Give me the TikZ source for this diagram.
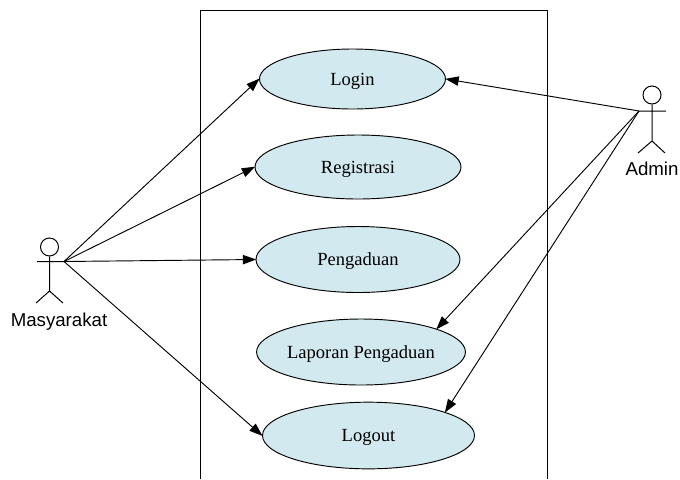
\documentclass[tikz,border=0pt]{standalone}
\usepackage{fontspec}
\setmainfont{Liberation Serif}
\newfontfamily\actorfont{Liberation Sans}
\usetikzlibrary{shapes.geometric,arrows.meta}
\definecolor{ucfill}{HTML}{D2E9EF}
\tikzset{
  x=0.75pt,y=-0.75pt,
  usecase/.style={ellipse,draw=black,fill=ucfill,line width=0.7pt,inner sep=0pt,text height=9pt,text depth=0pt,font=\fontsize{13.9pt}{16pt}\selectfont},
  actorlabel/.style={font=\actorfont\fontsize{14pt}{16pt}\selectfont,inner sep=0pt,anchor=base},
  limb/.style={draw=black,line width=0.75pt},
  link/.style={draw=black,line width=0.7pt,-{Triangle[length=10pt,width=7pt]},shorten >=-0.5pt},
}
\begin{document}
\begin{tikzpicture}
\useasboundingbox (0,0) rectangle (680,479);
\fill[white] (0,0) rectangle (680,479);
% system boundary (open at the bottom)
\draw[line width=0.75pt] (200,479) -- (200,10) -- (547,10) -- (547,479);
% use cases
\node[usecase,minimum width=139.5pt,minimum height=45pt] (login) at (352.5,79) {Login};
\node[usecase,minimum width=154.5pt,minimum height=48pt] (reg) at (358,167) {Registrasi};
\node[usecase,minimum width=153pt,minimum height=49.5pt] (peng) at (358,259.5) {Pengaduan};
\node[usecase,minimum width=154.5pt,minimum height=49.5pt] (lap) at (361,352) {Laporan Pengaduan};
\node[usecase,minimum width=159pt,minimum height=50pt] (logout) at (368.5,435.5) {Logout};
% actor Masyarakat
\node[circle,draw=black,line width=0.75pt,fill=white,minimum size=13.5pt,inner sep=0pt] (headm) at (49.5,247) {};
\coordinate (handm) at (64,261.5);
\coordinate (armm) at (37,261.5);
\coordinate (hipm) at (49.5,291);
\coordinate (footma) at (36,303);
\coordinate (footmb) at (63,303);
\draw[limb] (headm.south) -- (hipm) (armm) -- (handm) (footma) -- (hipm) -- (footmb);
\node[actorlabel] (lblm) at (59,326) {Masyarakat};
% actor Admin
\node[circle,draw=black,line width=0.75pt,fill=white,minimum size=13.5pt,inner sep=0pt] (heada) at (652,95) {};
\coordinate (handa) at (639,111);
\coordinate (arma) at (666,111);
\coordinate (hipa) at (652,141);
\coordinate (foota) at (638,153);
\coordinate (footb) at (665,153);
\draw[limb] (heada.south) -- (hipa) (handa) -- (arma) (foota) -- (hipa) -- (footb);
\node[actorlabel] (lbla) at (652,175) {Admin};
% connectors
\draw[link] (handm) -- (login.west);
\draw[link] (handm) -- (reg.west);
\draw[link] (handm) -- (peng.west);
\draw[link] (handm) -- (logout.west);
\draw[link] (handa) -- (login.east);
\draw[link] (handa) -- (lap.17);
\draw[link] (handa) -- (logout.17);
\end{tikzpicture}
\end{document}
